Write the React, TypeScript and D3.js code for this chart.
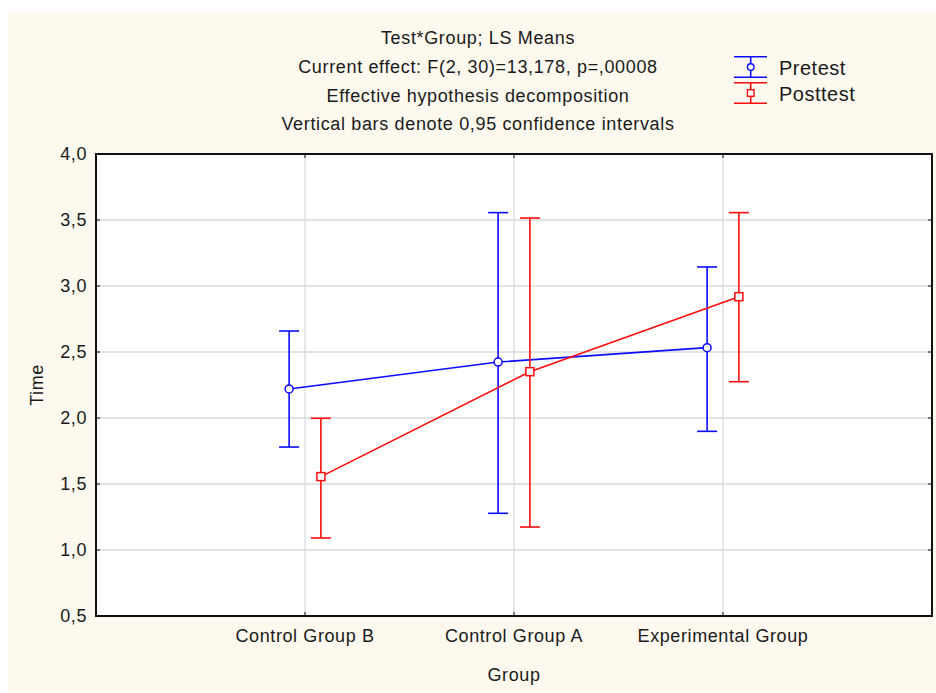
import React from "react";
import * as d3 from "d3";

const categories = ["Control Group B", "Control Group A", "Experimental Group"];
const seriesNames = ["Pretest", "Posttest"];
const pretestMean = [2.22, 2.424, 2.533];
const pretestLow = [1.78, 1.278, 1.899];
const pretestHigh = [2.659, 3.556, 3.144];
const posttestMean = [1.556, 2.351, 2.919];
const posttestLow = [1.091, 1.174, 2.275];
const posttestHigh = [1.998, 3.515, 3.556];
const yTicks = [0.5, 1.0, 1.5, 2.0, 2.5, 3.0, 3.5, 4.0];
const titleLines = [
  "Test*Group; LS Means",
  "Current effect: F(2, 30)=13,178, p=,00008",
  "Effective hypothesis decomposition",
  "Vertical bars denote 0,95 confidence intervals",
];

const W = 936;
const H = 693;
const left = 96;
const right = 932;
const top = 154;
const bottom = 616;
const FONT = "'Liberation Sans', Arial, sans-serif";
const TXT = "#1a1a1a";
const BLUE = "#0c0cff";
const RED = "#ff0c0c";

export default function App() {
  const x = d3.scaleLinear().domain([0, 4]).range([left, right]);
  const y = d3.scaleLinear().domain([0.5, 4.0]).range([bottom, top]);
  const fmt = (v: number) => v.toFixed(1).replace(".", ",");
  const offset = 0.076;

  const series = [
    { name: seriesNames[0], mean: pretestMean, lo: pretestLow, hi: pretestHigh, color: BLUE, dx: -offset, marker: "circle" },
    { name: seriesNames[1], mean: posttestMean, lo: posttestLow, hi: posttestHigh, color: RED, dx: offset, marker: "square" },
  ];

  const tickLen = 4;

  return (
    <svg width={W} height={H} style={{ position: "absolute", left: 0, top: 0 }} fontFamily={FONT}>
      <rect x={8} y={12} width={W - 8} height={680} fill="#fdf9ef" />
      <rect x={left} y={top} width={right - left} height={bottom - top} fill="#ffffff" />
      {/* grid */}
      {yTicks.map((t) => (
        <line key={"gy" + t} x1={left} x2={right} y1={y(t)} y2={y(t)} stroke="#dadada" strokeWidth={1.3} />
      ))}
      {categories.map((c, i) => (
        <line key={"gx" + c} x1={x(i + 1)} x2={x(i + 1)} y1={top} y2={bottom} stroke="#dadada" strokeWidth={1.3} />
      ))}
      {/* ticks inward */}
      {yTicks.map((t) => (
        <g key={"ty" + t}>
          <line x1={left} x2={left + tickLen} y1={y(t)} y2={y(t)} stroke="#111" strokeWidth={1} />
          <line x1={right - tickLen} x2={right} y1={y(t)} y2={y(t)} stroke="#111" strokeWidth={1} />
        </g>
      ))}
      {categories.map((c, i) => (
        <g key={"tx" + c}>
          <line x1={x(i + 1)} x2={x(i + 1)} y1={top} y2={top + tickLen} stroke="#111" strokeWidth={1} />
          <line x1={x(i + 1)} x2={x(i + 1)} y1={bottom - tickLen} y2={bottom} stroke="#111" strokeWidth={1} />
        </g>
      ))}
      {/* frame */}
      <rect x={left} y={top} width={right - left} height={bottom - top} fill="none" stroke="#111" strokeWidth={2} />

      {/* series */}
      {series.map((s) => {
        const xs = (i: number) => x(i + 1 + s.dx);
        const path = d3
          .line<number>()
          .x((_, i) => xs(i))
          .y((d) => y(d))(s.mean) as string;
        return (
          <g key={s.name}>
            {s.mean.map((m, i) => (
              <g key={i} stroke={s.color} strokeWidth={1.6}>
                <line x1={xs(i)} x2={xs(i)} y1={y(s.hi[i])} y2={y(s.lo[i])} />
                <line x1={xs(i) - 10} x2={xs(i) + 10} y1={y(s.hi[i])} y2={y(s.hi[i])} />
                <line x1={xs(i) - 10} x2={xs(i) + 10} y1={y(s.lo[i])} y2={y(s.lo[i])} />
              </g>
            ))}
            <path d={path} fill="none" stroke={s.color} strokeWidth={1.6} />
            {s.mean.map((m, i) =>
              s.marker === "circle" ? (
                <circle key={"m" + i} cx={xs(i)} cy={y(m)} r={4} fill="white" stroke={s.color} strokeWidth={1.5} />
              ) : (
                <rect key={"m" + i} x={xs(i) - 4} y={y(m) - 4} width={8} height={8} fill="white" stroke={s.color} strokeWidth={1.5} />
              )
            )}
          </g>
        );
      })}

      {/* y tick labels */}
      {yTicks.map((t) => (
        <text key={"yl" + t} x={87} y={y(t)} dy="0.35em" textAnchor="end" fontSize={18} letterSpacing={0.6} fill={TXT}>
          {fmt(t)}
        </text>
      ))}
      {/* x tick labels */}
      {categories.map((c, i) => (
        <text key={"xl" + c} x={x(i + 1)} y={636} dy="0.35em" textAnchor="middle" fontSize={18} letterSpacing={0.6} fill={TXT}>
          {c}
        </text>
      ))}
      {/* axis titles */}
      <text x={514} y={675} dy="0.35em" textAnchor="middle" fontSize={18} letterSpacing={0.6} fill={TXT}>
        Group
      </text>
      <text transform={`translate(37,${(top + bottom) / 2}) rotate(-90)`} dy="0.35em" textAnchor="middle" fontSize={18} letterSpacing={0.6} fill={TXT}>
        Time
      </text>
      {/* titles */}
      {titleLines.map((t, i) => (
        <text key={"t" + i} x={478} y={38 + i * 28.7} dy="0.35em" textAnchor="middle" fontSize={18} letterSpacing={0.65} fill={TXT}>
          {t}
        </text>
      ))}
      {/* legend */}
      {series.map((s, k) => {
        const cy = 67 + k * 26;
        const cx = 750.7;
        return (
          <g key={"lg" + s.name}>
            <g stroke={s.color} strokeWidth={1.6}>
              <line x1={734} x2={767} y1={cy - 10.3} y2={cy - 10.3} />
              <line x1={734} x2={767} y1={cy + 10.3} y2={cy + 10.3} />
              <line x1={cx} x2={cx} y1={cy - 10.3} y2={cy + 10.3} />
            </g>
            {s.marker === "circle" ? (
              <circle cx={cx} cy={cy} r={3.3} fill="white" stroke={s.color} strokeWidth={1.4} />
            ) : (
              <rect x={cx - 3.3} y={cy - 3.3} width={6.6} height={6.6} fill="white" stroke={s.color} strokeWidth={1.4} />
            )}
            <text x={779} y={cy + 1} dy="0.35em" fontSize={20} letterSpacing={0.5} fill={TXT}>
              {s.name}
            </text>
          </g>
        );
      })}
    </svg>
  );
}
